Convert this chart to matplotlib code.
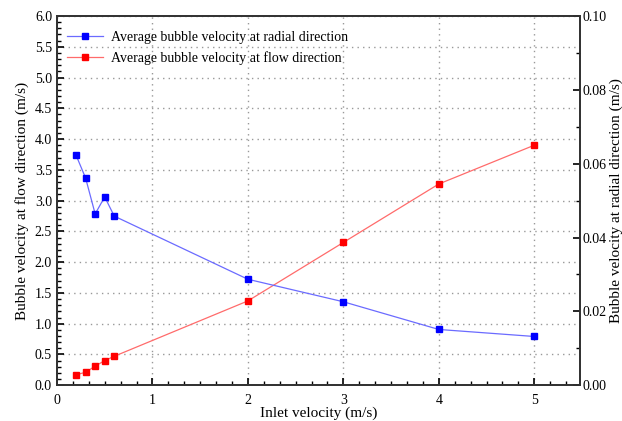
import numpy as np
import matplotlib.pyplot as plt
from matplotlib.ticker import MultipleLocator

plt.rcParams['font.family'] = ['Liberation Serif', 'DejaVu Serif']

inlet_velocity = [0.2, 0.3, 0.4, 0.5, 0.6, 2, 3, 4, 5]
radial_velocity = [0.0623, 0.0561, 0.0464, 0.0510, 0.0458, 0.0287, 0.0226, 0.0151, 0.0132]
flow_velocity = [0.17, 0.21, 0.31, 0.40, 0.47, 1.37, 2.32, 3.27, 3.90]

fig = plt.figure(figsize=(6.22, 4.21), dpi=100)
ax = fig.add_axes([0.0916, 0.085, 0.841, 0.877])
ax2 = ax.twinx()

# radial velocity on the right axis, flow velocity on the left
l1, = ax2.plot(inlet_velocity, radial_velocity, color='#6b6bff', lw=0.9,
               marker='s', ms=4.8, mfc='blue', mec='blue',
               label='Average bubble velocity at radial direction')
l2, = ax.plot(inlet_velocity, flow_velocity, color='#ff6b6b', lw=0.9,
              marker='s', ms=4.8, mfc='red', mec='red',
              label='Average bubble velocity at flow direction')

ax.set_xlim(0, 5.48)
ax.set_ylim(0, 6)
ax2.set_ylim(0, 0.10)

ax.xaxis.set_major_locator(MultipleLocator(1))
ax.xaxis.set_minor_locator(MultipleLocator(1 / 6))
ax.yaxis.set_major_locator(MultipleLocator(0.5))
ax.yaxis.set_minor_locator(MultipleLocator(0.1))
ax2.yaxis.set_major_locator(MultipleLocator(0.02))
ax2.yaxis.set_minor_locator(MultipleLocator(0.01))
ax.yaxis.set_major_formatter('{x:.1f}')
ax2.yaxis.set_major_formatter('{x:.2f}')

ax.grid(True, which='major', linestyle=(0, (1, 3)), color='#999999', lw=1)

for a in (ax, ax2):
    a.tick_params(which='major', direction='in', length=5, width=1.2, labelsize=10)
    a.tick_params(which='minor', direction='in', length=3, width=1)
    for s in a.spines.values():
        s.set_linewidth(1.3)
        s.set_color('#333333')
ax.tick_params(axis='x', pad=6)
ax2.tick_params(axis='y', pad=2)

ax.set_xlabel('Inlet velocity (m/s)', fontsize=11, labelpad=0)
ax.set_ylabel('Bubble velocity at flow direction (m/s)', fontsize=11, labelpad=4)
ax2.set_ylabel('Bubble velocity at radial direction (m/s)', fontsize=11, labelpad=2)

ax.legend(handles=[l1, l2], loc='upper left', bbox_to_anchor=(0.0, 0.985),
          frameon=False, fontsize=10, handlelength=2.6, handletextpad=0.6,
          labelspacing=0.5, borderaxespad=0.3)

fig.savefig('out.png', dpi=100)
